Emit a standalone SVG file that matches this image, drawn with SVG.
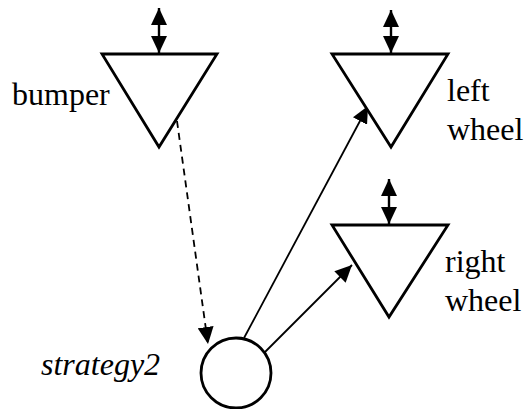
<svg xmlns="http://www.w3.org/2000/svg" width="529" height="409" viewBox="0 0 529 409">
<style>
.tri{fill:#fff;stroke:#000;stroke-width:2.8;stroke-linejoin:miter}
.circ{fill:#fff;stroke:#000;stroke-width:2.8}
.lbl{font-family:"Liberation Serif","Times New Roman",serif;font-size:32px;fill:#000}
.it{font-style:italic}
.con{stroke:#000;stroke-width:1.8;fill:none}
.dbl{stroke:#000;stroke-width:2.4;fill:none}
.dash{stroke-dasharray:7,5}
</style>
<defs>
<marker id="ah" markerUnits="userSpaceOnUse" viewBox="0 0 17 16" refX="17" refY="8" markerWidth="17" markerHeight="16" orient="auto-start-reverse">
<path d="M0,0 L17,8 L0,16 z" fill="#000"/>
</marker>
</defs>
<g id="connectors">
<line class="dbl" x1="159" y1="8" x2="159" y2="53" marker-start="url(#ah)" marker-end="url(#ah)"/>
<line class="dbl" x1="391" y1="10" x2="391" y2="53" marker-start="url(#ah)" marker-end="url(#ah)"/>
<line class="dbl" x1="389" y1="179" x2="389" y2="224" marker-start="url(#ah)" marker-end="url(#ah)"/>
<line class="con dash" x1="177" y1="121" x2="208" y2="344" marker-end="url(#ah)"/>
<line class="con" x1="244" y1="338" x2="368" y2="106" marker-end="url(#ah)"/>
<line class="con" x1="264" y1="353" x2="352" y2="265" marker-end="url(#ah)"/>
</g>
<g id="bumper">
<polygon class="tri" points="102,54 217,54 159,147"/>
<text class="lbl" x="12" y="105">bumper</text>
</g>
<g id="left-wheel">
<polygon class="tri" points="332,54 448,54 391,147"/>
<text class="lbl" x="447" y="101">left</text>
<text class="lbl" x="447" y="140">wheel</text>
</g>
<g id="right-wheel">
<polygon class="tri" points="332,225 448,225 389,317"/>
<text class="lbl" x="445" y="272">right</text>
<text class="lbl" x="445" y="311">wheel</text>
</g>
<g id="strategy2">
<circle class="circ" cx="236" cy="373" r="35"/>
<text class="lbl it" x="41" y="375">strategy2</text>
</g>
</svg>
